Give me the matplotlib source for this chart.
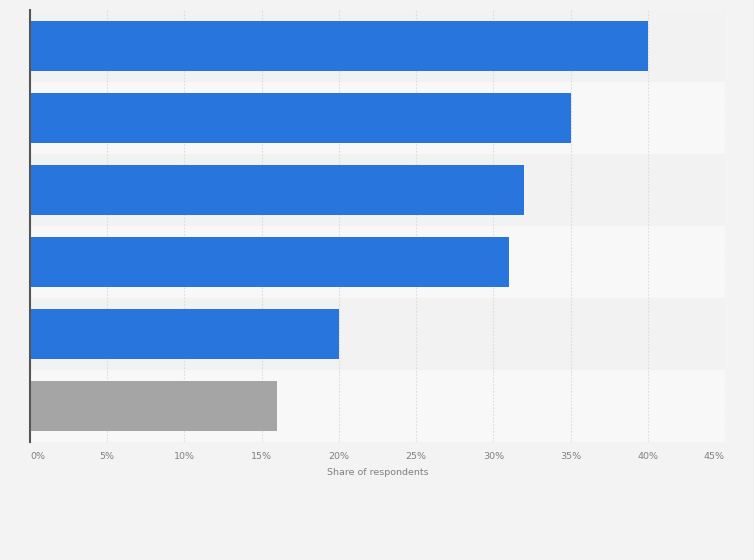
import numpy as np
import matplotlib.pyplot as plt

# values (share of respondents, %)
values = [40, 35, 32, 31, 20, 16]
bar_colors = ["#2876dd", "#2876dd", "#2876dd", "#2876dd", "#2876dd", "#a5a5a5"]
ticks = [0, 5, 10, 15, 20, 25, 30, 35, 40, 45]
tick_labels = ["{}%".format(t) for t in ticks]

fig = plt.figure(figsize=(7.54, 5.6), dpi=100)
fig.patch.set_facecolor("#f3f3f3")
ax = fig.add_axes([30 / 754, 118 / 560, 695 / 754, 432 / 560])
ax.set_facecolor("none")

n = len(values)
y = np.arange(n)

# alternating row bands
for i in range(n):
    ax.axhspan(i - 0.5, i + 0.5, color="#f2f2f2" if i % 2 == 0 else "#f8f8f8", zorder=0, lw=0)

ax.barh(y, values, height=0.69, color=bar_colors, zorder=3)

ax.set_xlim(0, 45)
ax.set_ylim(n - 0.5, -0.5)
ax.set_yticks([])
ax.set_xticks(ticks)
ax.set_xticklabels(tick_labels, fontsize=6.8, color="#808080")
labels = ax.get_xticklabels()
labels[0].set_ha("left")
labels[-1].set_ha("right")
ax.tick_params(axis="x", length=0, pad=7)
ax.grid(axis="x", color="#dcdcdc", linestyle=(0, (1.5, 1.5)), linewidth=0.8, zorder=1)
ax.set_xlabel("Share of respondents", fontsize=6.8, color="#808080", labelpad=5)

for s in ["top", "right", "bottom"]:
    ax.spines[s].set_visible(False)
ax.spines["left"].set_color("#555555")
ax.spines["left"].set_linewidth(1.5)
ax.spines["left"].set_zorder(4)

fig.savefig("out.png", dpi=100, facecolor=fig.get_facecolor())
